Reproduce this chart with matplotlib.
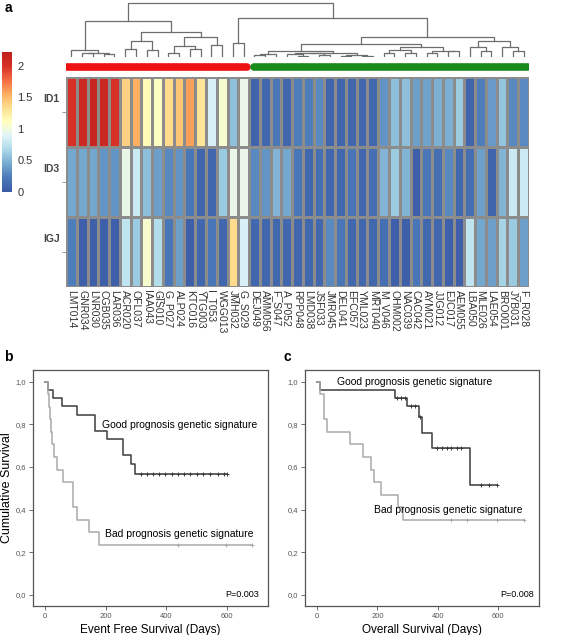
import numpy as np
import matplotlib
matplotlib.use('Agg')
import matplotlib.pyplot as plt
from matplotlib.colors import LinearSegmentedColormap

plt.rcParams['font.family'] = ['Liberation Sans', 'DejaVu Sans']

# ---------------- data ----------------
samples = ['LMT014', 'GNR034', 'LNR030', 'CGB035', 'LAR036', 'ACR020', 'OFL037',
           'IAA043', 'GIS010', 'G_P027', 'ALP024', 'KTC016', 'YTG003', 'I_T053',
           'WGG013', 'JMH032', 'G_S029', 'DEJ049', 'AMM056', 'F_S047', 'A_P052',
           'RPP048', 'LMD038', 'JSF033', 'JMR045', 'DEL041', 'EFC057', 'YML023',
           'MRT040', 'M_V046', 'OHM002', 'NAC039', 'CAC042', 'AYM021', 'JJG012',
           'EJC017', 'AEM055', 'LBA050', 'MLE026', 'LAE054', 'BRO001', 'JYB031',
           'F_R028']
genes = ['ID1', 'ID3', 'IGJ']
n_bad = 17   # red cluster
n_good = 26  # green cluster

id1 = [2.0, 2.1, 2.15, 2.1, 2.0, 1.4, 1.55, 1.15, 1.1, 1.35, 1.45, 1.6, 1.3, 0.85, 1.05, 0.55, 0.95,
       0.08, 0.1, 0.2, 0.1, 0.25, 0.25, 0.3, 0.08, 0.08, 0.1, 0.1, 0.1, 0.35, 0.55, 0.55, 0.4, 0.42,
       0.48, 0.48, 0.6, 0.08, 0.25, 0.38, 0.58, 0.3, 0.3]
id3 = [0.45, 0.45, 0.45, 0.35, 0.35, 0.95, 0.8, 0.55, 0.4, 0.3, 0.35, 0.2, 0.1, 0.1, 0.6, 0.95, 0.95,
       0.3, 0.35, 0.5, 0.45, 0.2, 0.1, 0.15, 0.1, 0.1, 0.2, 0.1, 0.15, 0.5, 0.6, 0.5, 0.05, 0.2,
       0.15, 0.3, 0.1, 0.15, 0.4, 0.08, 0.5, 0.8, 0.8]
igj = [0.25, 0.05, 0.05, 0.05, 0.05, 0.75, 0.6, 1.05, 0.7, 0.2, 0.4, 0.05, 0.1, 0.2, 0.1, 1.35, 0.85,
       0.1, 0.1, 0.1, 0.1, 0.1, 0.1, 0.1, 0.3, 0.2, 0.1, 0.1, 0.1, 0.15, 0.05, 0.05, 0.2, 0.1,
       0.1, 0.05, 0.05, 0.75, 0.45, 0.4, 0.65, 0.6, 0.4]

# dendrogram: (left, right, height); leaves are column indices
red_a = (0, ((1, 2, 10), (3, 4, 7), 12), 18)
red_b = (((5, 6, 22), (7, 8, 20), 42),
         (((9, 10, 12), (11, 12, 23), 30), (13, 14, 33), 55), 68)
g1 = (((17, 18, 5), 19, 8),
      (((20, (21, 22, 4), 7), (23, 24, 6), 10), ((25, 26, 3), (27, 28, 2), 5), 12), 15)
g2 = (((29, 30, 12), (31, 32, 10), 20), ((33, 34, 10), (35, 36, 15), 17), 27)
g3 = ((37, (38, 39, 15), 27), (40, (41, 42, 15), 27), 42)
tree = ((red_a, red_b, 97), ((15, 16, 37), ((g1, g2, 35), g3, 55), 105), 147)

# Kaplan-Meier steps (days, cumulative survival)
efs_good_t = [0, 11, 27, 55, 104, 164, 203, 258, 282, 296]
efs_good_s = [1.0, 0.962, 0.923, 0.885, 0.846, 0.769, 0.731, 0.654, 0.615, 0.565]
efs_good_end = 600
efs_good_cens = [315, 335, 355, 375, 395, 420, 440, 460, 480, 500, 520, 545, 570, 590, 600]
efs_bad_t = [0, 8, 12, 16, 20, 24, 30, 38, 60, 91, 104, 146, 179]
efs_bad_s = [1.0, 0.941, 0.882, 0.824, 0.765, 0.706, 0.647, 0.588, 0.529, 0.412, 0.353, 0.294, 0.235]
efs_bad_end = 683
efs_bad_cens = [440, 597, 683]

os_good_t = [0, 9, 260, 299, 338, 349, 382, 507]
os_good_s = [1.0, 0.962, 0.923, 0.885, 0.836, 0.761, 0.687, 0.516]
os_good_end = 598
os_good_cens = [266, 280, 293, 312, 326, 343, 398, 415, 432, 443, 465, 476, 542, 570, 598]
os_bad_t = [0, 11, 22, 33, 108, 153, 179, 190, 212, 268, 286]
os_bad_s = [1.0, 0.941, 0.824, 0.765, 0.706, 0.647, 0.588, 0.529, 0.471, 0.412, 0.353]
os_bad_end = 686
os_bad_cens = [443, 498, 598, 686]

# ---------------- figure ----------------
W, H = 567, 635
fig = plt.figure(figsize=(W / 100, H / 100), dpi=100)


def px_axes(x0, y0, x1, y1):
    return fig.add_axes([x0 / W, 1 - y1 / H, (x1 - x0) / W, (y1 - y0) / H])


cmap = LinearSegmentedColormap.from_list('hm', ['#3b5aa6', '#4a79b8', '#74a9cf', '#abd9e9', '#e0f3f8',
                                                '#ffffbf', '#fee090', '#fdae61', '#f46d43', '#d73027',
                                                '#c0201c'])
vals = np.array([id1, id3, igj])
ncol = len(samples)

# heatmap
ax = px_axes(66, 77, 529, 287)
mesh = ax.pcolormesh(vals, cmap=cmap, vmin=0, vmax=2.22, edgecolors='#8c8c8c', linewidth=0.9)
ax.set_xlim(0, ncol)
ax.set_ylim(3, 0)
for s in ax.spines.values():
    s.set_visible(False)
ax.set_xticks(np.arange(ncol) + 0.5)
ax.set_xticklabels(samples, rotation=270, fontsize=7.5, color='#333333', va='top', ha='center')
ax.set_yticks(np.arange(3) + 0.5)
ax.set_yticklabels([])
ax.tick_params(axis='x', length=0, pad=2)
ax.tick_params(axis='y', length=3, width=0.6, color='#888888')
for i, g in enumerate(genes):
    ax.text(-0.6, i + 0.32, g, ha='right', va='center', fontsize=7.5, fontweight='bold', color='#444444')

# colour key
cax = px_axes(2, 52, 12, 192)
cb = fig.colorbar(mesh, cax=cax, ticks=[0, 0.5, 1, 1.5, 2])
cb.set_ticklabels(['0', '0.5', '1', '1.5', '2'])
cb.outline.set_visible(False)
cax.tick_params(length=0, labelsize=8, pad=4, labelcolor='#333333')

# dendrogram
dax = px_axes(66, 2, 529, 57)


def draw(node):
    if isinstance(node, int):
        return node + 0.5, 0.0
    xl, hl = draw(node[0])
    xr, hr = draw(node[1])
    h = node[2]
    dax.plot([xl, xl, xr, xr], [hl, h, h, hr], color='#6e6e6e', lw=0.9)
    return (xl + xr) / 2, h


draw(tree)
dax.set_xlim(0, ncol)
dax.set_ylim(0, 149)
dax.axis('off')

# group bars
bax = px_axes(66, 60, 529, 74)
bax.plot([0.1, n_bad - 0.2], [0, 0], color='#ee1111', lw=5.5, solid_capstyle='round')
bax.plot([n_bad + 0.5, ncol - 0.1], [0, 0], color='#1a8a1a', lw=5.5, solid_capstyle='round')
bax.set_xlim(0, ncol)
bax.set_ylim(-1, 1)
bax.axis('off')

fig.text(5 / W, 1 - 8 / H, 'a', fontsize=10, fontweight='bold', va='center')
fig.text(4 / W, 1 - 357 / H, 'b', fontsize=10, fontweight='bold', va='center')
fig.text(284 / W, 1 - 357 / H, 'c', fontsize=10, fontweight='bold', va='center')


def km(ax, t, s, end, cens, color):
    tt = list(t) + [end]
    ss = list(s) + [s[-1]]
    ax.step(tt, ss, where='post', color=color, lw=1.1)
    idx = np.searchsorted(t, cens, side='right') - 1
    ax.plot(cens, np.array(s)[idx], '+', color=color, ms=3.5, mew=0.7)


def style(ax):
    ax.set_xlim(-40, 736)
    ax.set_ylim(-0.052, 1.055)
    ax.set_xticks([0, 200, 400, 600])
    ax.set_yticks([0, 0.2, 0.4, 0.6, 0.8, 1.0])
    ax.set_yticklabels(['0,0', '0,2', '0,4', '0,6', '0,8', '1,0'])
    ax.tick_params(length=3, width=0.6, color='#555555', labelsize=5.5, labelcolor='#555555', pad=2)
    for sp in ax.spines.values():
        sp.set_color('#555555')
        sp.set_linewidth(0.9)


good_c, bad_c = '#3c3c3c', '#aaaaaa'

axb = px_axes(33, 370, 268, 606)
km(axb, efs_good_t, efs_good_s, efs_good_end, efs_good_cens, good_c)
km(axb, efs_bad_t, efs_bad_s, efs_bad_end, efs_bad_cens, bad_c)
style(axb)
axb.text(187, 0.797, 'Good prognosis genetic signature', fontsize=7.5, va='center')
axb.text(197, 0.286, 'Bad prognosis genetic signature', fontsize=7.5, va='center')
axb.text(705, 0.0, 'P=0.003', fontsize=6.5, va='center', ha='right')
axb.set_xlabel('Event Free Survival (Days)', fontsize=8.5, labelpad=3)
axb.set_ylabel('Cumulative Survival', fontsize=9, va='center')
axb.yaxis.set_label_coords(-26 / 235, 0.5)

axc = px_axes(305, 370, 539, 606)
km(axc, os_good_t, os_good_s, os_good_end, os_good_cens, good_c)
km(axc, os_bad_t, os_bad_s, os_bad_end, os_bad_cens, bad_c)
style(axc)
axc.text(67, 1.0, 'Good prognosis genetic signature', fontsize=7.5, va='center')
axc.text(190, 0.40, 'Bad prognosis genetic signature', fontsize=7.5, va='center')
axc.text(718, 0.0, 'P=0.008', fontsize=6.5, va='center', ha='right')
axc.set_xlabel('Overall Survival (Days)', fontsize=8.5, labelpad=3)

fig.savefig('out.png', dpi=100)
